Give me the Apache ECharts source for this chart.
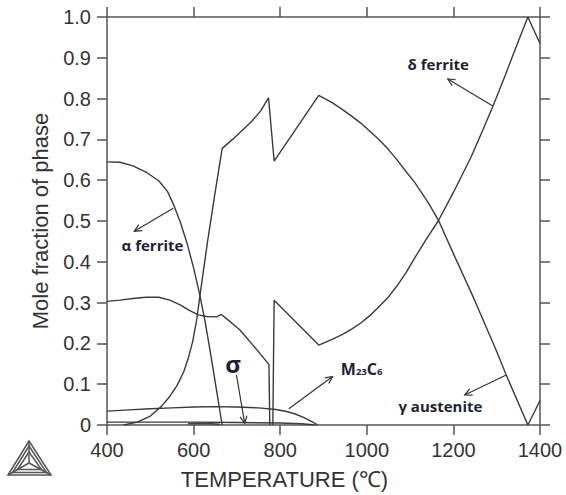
<!DOCTYPE html>
<html><head><meta charset="utf-8">
<script src="https://cdn.jsdelivr.net/npm/echarts/dist/echarts.min.js"></script>
<style>html,body{margin:0;padding:0;background:#fff}#c{width:566px;height:495px}</style>
</head><body><div id="c"></div>
<script>
// ---- tick labels ----
const xTickLabels = ['400','600','800','1000','1200','1400'];
const yTickLabels = ['0','0.1','0.2','0.3','0.4','0.5','0.6','0.7','0.8','0.9','1.0'];

// ---- series data: [temperature (°C), mole fraction] ----
const alphaFerrite = [[400,0.645],[430,0.644],[460,0.635],[490,0.62],[520,0.598],[540,0.572],[555,0.537],[570,0.495],[585,0.445],[600,0.385],[613,0.325],[626,0.257],[640,0.17],[653,0.085],[666,0]];
const gammaAustenite = [[438,0],[470,0.007],[500,0.022],[525,0.045],[545,0.07],[562,0.097],[577,0.13],[588,0.165],[598,0.205],[607,0.257],[617,0.335],[632,0.448],[649,0.565],[666,0.678],[690,0.70],[712,0.722],[735,0.745],[755,0.77],[773,0.802],[786,0.647],[889,0.808],[920,0.79],[944,0.773],[965,0.757],[986,0.74],[1007,0.72],[1028,0.70],[1050,0.675],[1069,0.651],[1090,0.622],[1111,0.594],[1140,0.548],[1165,0.503],[1200,0.42],[1249,0.306],[1300,0.18],[1322,0.1225],[1372,0]];
const deltaFerrite = [[783,0],[786,0.306],[889,0.196],[920,0.21],[944,0.222],[965,0.235],[986,0.25],[1007,0.268],[1028,0.29],[1050,0.314],[1069,0.34],[1090,0.372],[1111,0.41],[1140,0.46],[1165,0.5],[1200,0.57],[1240,0.655],[1268,0.723],[1292,0.783],[1320,0.858],[1345,0.927],[1372,1.0],[1400,0.935]];
const secondBcc = [[400,0.303],[430,0.306],[460,0.31],[490,0.313],[520,0.313],[545,0.306],[570,0.294],[590,0.281],[611,0.27],[630,0.266],[653,0.265],[664,0.271],[680,0.257],[695,0.244],[707,0.233],[736,0.197],[755,0.173],[774,0.148],[776,0]];
const m23c6 = [[400,0.034],[450,0.037],[500,0.040],[550,0.042],[600,0.044],[650,0.045],[700,0.044],[750,0.042],[790,0.038],[815,0.033],[835,0.027],[855,0.018],[872,0.009],[887,0]];
const sigma = [[400,0.007],[500,0.007],[600,0.007],[700,0.006],[800,0.005],[850,0.003],[880,0]];
const minorPhase = [[587,0.003],[620,0.004],[661,0.002]];
const liquid = [[1372,0],[1400,0.06]];

// ---- annotations (data coordinates) ----
const annoText  = ['δ ferrite','α ferrite','σ','M23C6','γ austenite'];
const annoAt    = [[1165,0.885],[505,0.442],[691,0.15],[988,0.137],[1170,0.047]];
const arrowFrom = [[1291,0.782],[553,0.531],[699,0.1225],[820,0.04],[1322,0.1225]];
const arrowTo   = [[1187,0.848],[463,0.475],[718,0.004],[921,0.119],[1226,0.0735]];

const AX = '#555', LINE = '#3a3a3a', TXT = '#333', ANNO = '#1f1f33';
const FONT = 'Liberation Sans, Arial, sans-serif';

function axisCommon(extra){
  return Object.assign({
    type:'value', splitLine:{show:false},
    axisLine:{show:true,onZero:false,lineStyle:{color:AX,width:1.5}},
    axisTick:{show:true,inside:false,length:10,lineStyle:{color:AX,width:1.5}}
  }, extra);
}
function lineSeries(name, data, extra){
  return Object.assign({name, type:'line', data, showSymbol:false, symbol:'none', silent:true,
    lineStyle:{color:LINE,width:1.4}, xAxisIndex:0, yAxisIndex:0}, extra||{});
}

const chart = echarts.init(document.getElementById('c'), null, {renderer:'svg'});
chart.setOption({
  animation:false,
  backgroundColor:'#fff',
  grid:{left:107,right:26,top:17,bottom:70},
  xAxis:[
    axisCommon({min:400,max:1400,interval:200,position:'bottom',
      axisLabel:{margin:15,fontSize:20,color:TXT,fontFamily:FONT,showMinLabel:true,showMaxLabel:true,
        formatter:v=>xTickLabels[Math.round((v-400)/200)]},
      name:'TEMPERATURE (℃)',nameLocation:'middle',nameGap:43,
      nameTextStyle:{fontSize:22,color:TXT,fontFamily:FONT,padding:[0,78,0,0]}}),
    axisCommon({min:400,max:1400,interval:200,position:'top',axisLabel:{show:false}})
  ],
  yAxis:[
    axisCommon({min:0,max:1,interval:0.1,position:'left',
      axisLabel:{margin:16,fontSize:20,color:TXT,fontFamily:FONT,showMinLabel:true,showMaxLabel:true,
        formatter:v=>yTickLabels[Math.round(v*10)]},
      name:'Mole fraction of phase',nameLocation:'middle',nameGap:56,nameRotate:90,
      nameTextStyle:{fontSize:22,color:TXT,fontFamily:FONT}}),
    axisCommon({min:0,max:1,interval:0.1,position:'right',axisLabel:{show:false}})
  ],
  series:[
    lineSeries('α ferrite', alphaFerrite),
    lineSeries('γ austenite', gammaAustenite),
    lineSeries('δ ferrite', deltaFerrite),
    lineSeries('BCC#2', secondBcc),
    lineSeries('M23C6', m23c6),
    lineSeries('σ', sigma),
    lineSeries('minor', minorPhase, {lineStyle:{color:'#444',width:1.6}}),
    lineSeries('liquid', liquid)
  ]
});

// build annotation graphics through the chart's own coordinate conversion
const g = [];
for(let i=0;i<annoText.length;i++){
  const p = chart.convertToPixel({xAxisIndex:0,yAxisIndex:0}, annoAt[i]);
  const a = chart.convertToPixel({xAxisIndex:0,yAxisIndex:0}, arrowFrom[i]);
  const b = chart.convertToPixel({xAxisIndex:0,yAxisIndex:0}, arrowTo[i]);
  const isSigma = annoText[i]==='σ', isM = annoText[i]==='M23C6';
  g.push({type:'text', x:p[0], y:p[1], z:100, style:{
    text: isM ? '{a|M}{s|23}{a|C}{s|6}' : annoText[i],
    rich: isM ? {a:{fontSize:16,fontWeight:'bold',fill:ANNO,fontFamily:'Open Sans',verticalAlign:'bottom'},
                 s:{fontSize:9.5,fontWeight:'bold',fill:ANNO,fontFamily:'Open Sans',verticalAlign:'bottom',padding:[0,0,1,0]}} : undefined,
    fill:ANNO, fontFamily:'Open Sans', fontWeight:'bold', fontSize: isSigma?24:15,
    align:'center', verticalAlign:'middle'}});
  g.push({type:'line', z:100, shape:{x1:a[0],y1:a[1],x2:b[0],y2:b[1]}, style:{stroke:'#333',lineWidth:1.2}});
  const dx=b[0]-a[0], dy=b[1]-a[1], L=Math.hypot(dx,dy), ux=dx/L, uy=dy/L, h=8, ang=0.45;
  const c=Math.cos(ang), s=Math.sin(ang);
  const p1=[b[0]-h*(ux*c-uy*s), b[1]-h*(uy*c+ux*s)];
  const p2=[b[0]-h*(ux*c+uy*s), b[1]-h*(uy*c-ux*s)];
  g.push({type:'polyline', z:100, shape:{points:[p1,b,p2]}, style:{stroke:'#333',lineWidth:1.2,fill:null}});
}
// Thermo-Calc style triangle logo (bottom-left corner)
const logoStyle = {stroke:'#555',lineWidth:1.5,fill:null};
g.push({type:'polygon', shape:{points:[[29,441],[8,475],[51,475]]}, style:logoStyle});
g.push({type:'polygon', shape:{points:[[29,446],[12.5,472.5],[46.5,472.5]]}, style:logoStyle});
g.push({type:'polygon', shape:{points:[[29,452],[17.5,469.5],[41.5,469.5]]}, style:logoStyle});
g.push({type:'polyline', shape:{points:[[29,441],[29,463],[8,475]]}, style:logoStyle});
g.push({type:'line', shape:{x1:29,y1:463,x2:51,y2:475}, style:logoStyle});
chart.setOption({graphic:g});
</script>
</body></html>
